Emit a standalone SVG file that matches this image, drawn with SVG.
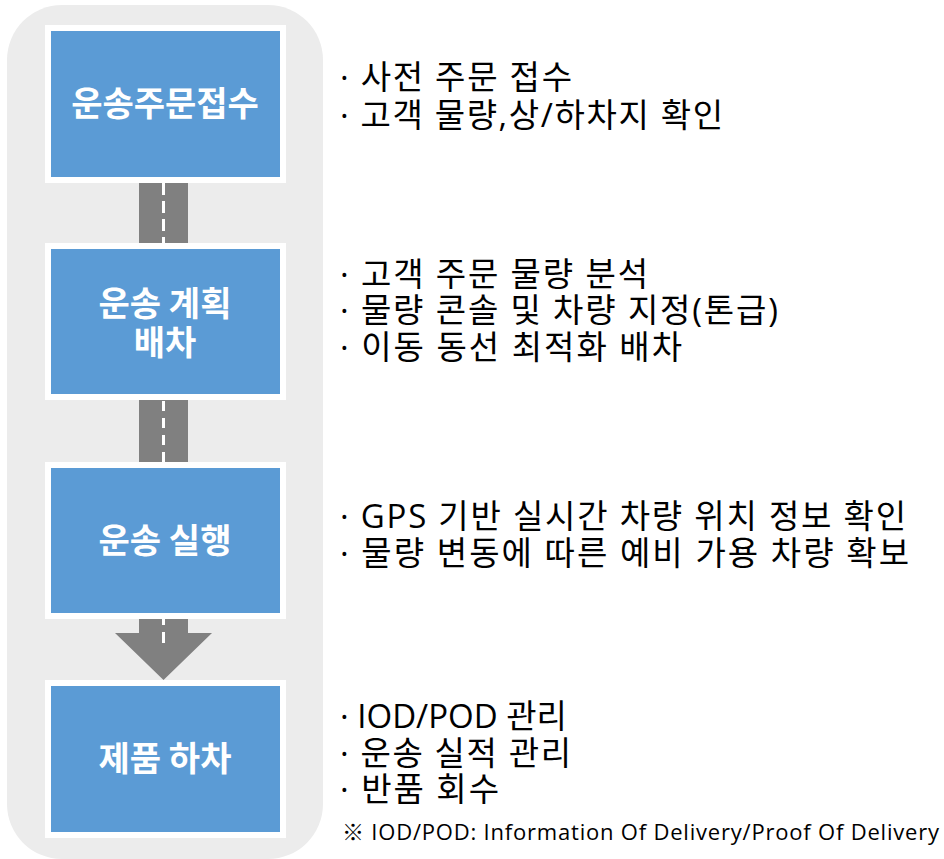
<svg xmlns="http://www.w3.org/2000/svg" width="944" height="859" viewBox="0 0 944 859">
<style>
.box{fill:#5b9bd5;stroke:#ffffff;stroke-width:6}
.bt{font-family:"Noto Sans CJK KR","Open Sans",sans-serif;font-weight:bold;font-size:34px;fill:#ffffff;text-anchor:middle}
.rt{font-family:"Open Sans","Noto Sans CJK KR",sans-serif;font-size:33px;fill:#000000}
.fn{font-family:"Open Sans","Noto Sans CJK KR",sans-serif;font-size:22px;fill:#000000}
.road{fill:#808080}
.dash{stroke:#ffffff;stroke-width:3;fill:none}
</style>
<rect x="7" y="5" width="316" height="854" rx="55" ry="55" fill="#ececec"/>
<g id="connectors">
  <rect class="road" x="139" y="183" width="49" height="60"/>
  <line class="dash" x1="163.5" y1="183" x2="163.5" y2="243" stroke-dasharray="12 6"/>
  <rect class="road" x="139" y="400" width="49" height="62"/>
  <line class="dash" x1="163.5" y1="401" x2="163.5" y2="462" stroke-dasharray="10 7"/>
  <path class="road" d="M139,619 H188 V633 H212 L163.5,680 L115,633 H139 Z"/>
  <line class="dash" x1="163.5" y1="619" x2="163.5" y2="625"/>
  <line class="dash" x1="163.5" y1="632" x2="163.5" y2="643"/>
</g>
<g id="node1">
  <rect class="box" x="48" y="28" width="235" height="152"/>
  <text class="bt" x="165" y="116">운송주문접수</text>
</g>
<g id="node2">
  <rect class="box" x="48" y="246" width="235" height="151"/>
  <text class="bt" x="165" y="316">운송 계획</text>
  <text class="bt" x="165" y="355">배차</text>
</g>
<g id="node3">
  <rect class="box" x="48" y="465" width="235" height="151"/>
  <text class="bt" x="165" y="553">운송 실행</text>
</g>
<g id="node4">
  <rect class="box" x="48" y="683" width="235" height="152"/>
  <text class="bt" x="165" y="771">제품 하차</text>
</g>
<g id="notes">
  <text class="rt" x="340" y="89" textLength="232" lengthAdjust="spacing">· 사전 주문 접수</text>
  <text class="rt" x="340" y="127" textLength="383" lengthAdjust="spacing">· 고객 물량,상/하차지 확인</text>
  <text class="rt" x="340" y="286" textLength="308" lengthAdjust="spacing">· 고객 주문 물량 분석</text>
  <text class="rt" x="340" y="322" textLength="438" lengthAdjust="spacing">· 물량 콘솔 및 차량 지정(톤급)</text>
  <text class="rt" x="340" y="359" textLength="342" lengthAdjust="spacing">· 이동 동선 최적화 배차</text>
  <text class="rt" x="340" y="528" textLength="566" lengthAdjust="spacing">· GPS 기반 실시간 차량 위치 정보 확인</text>
  <text class="rt" x="340" y="565" textLength="569" lengthAdjust="spacing">· 물량 변동에 따른 예비 가용 차량 확보</text>
  <text class="rt" x="340" y="728">· IOD/POD 관리</text>
  <text class="rt" x="340" y="765" textLength="231" lengthAdjust="spacing">· 운송 실적 관리</text>
  <text class="rt" x="340" y="801" textLength="159" lengthAdjust="spacing">· 반품 회수</text>
  <text class="fn" x="342" y="840" textLength="597" lengthAdjust="spacing">※ IOD/POD: Information Of Delivery/Proof Of Delivery</text>
</g>
</svg>
